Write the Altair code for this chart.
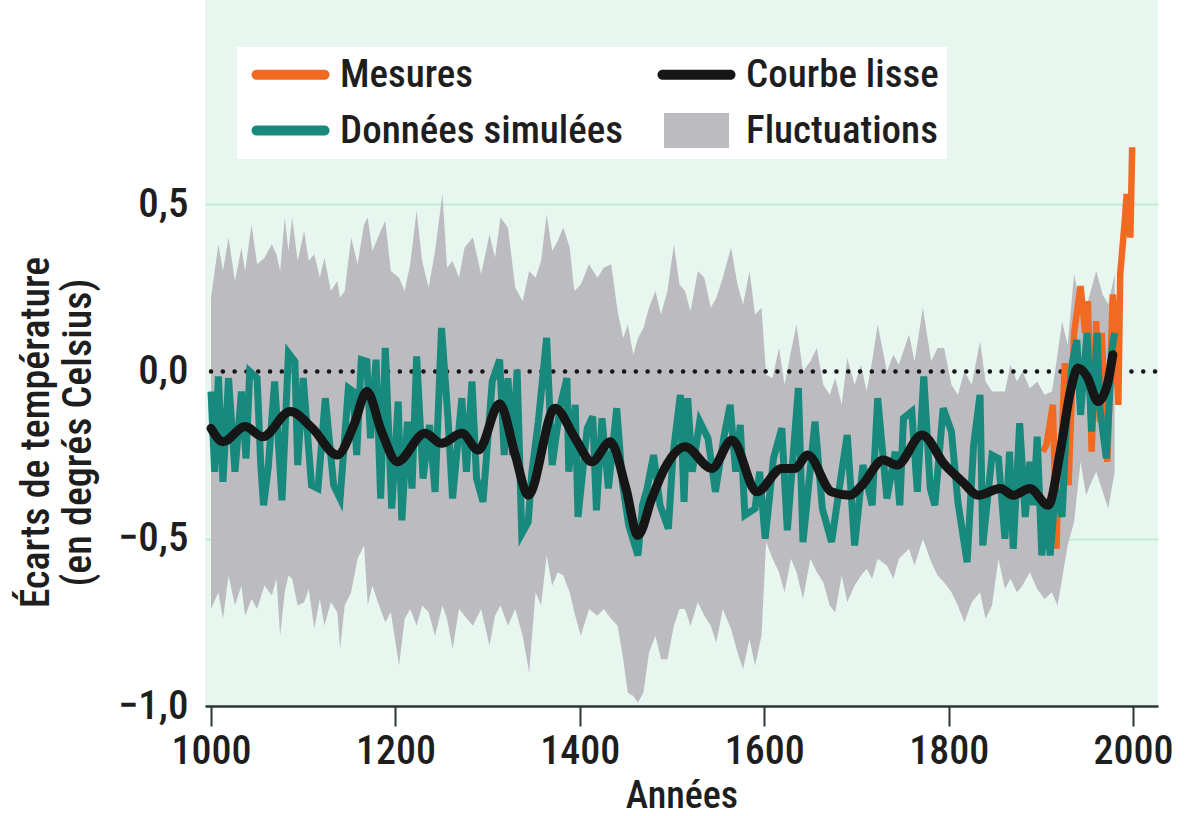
import altair as alt
import pandas as pd

# ---------------- data ----------------
# Fluctuations (grey band): upper and lower envelope
fl_years = [1000, 1008, 1013, 1019, 1026, 1033, 1037, 1044, 1050, 1058, 1066, 1071, 1075, 1080, 1084,
            1088, 1094, 1101, 1106, 1112, 1118, 1123, 1130, 1137, 1140, 1145, 1152, 1159, 1166, 1170,
            1175, 1181, 1189, 1195, 1204, 1210, 1216, 1223, 1229, 1236, 1243, 1251, 1256, 1262, 1269,
            1275, 1284, 1293, 1302, 1308, 1314, 1322, 1330, 1338, 1345, 1352, 1358, 1364, 1370, 1376,
            1382, 1389, 1394, 1401, 1410, 1419, 1426, 1434, 1441, 1447, 1452, 1458, 1463, 1469, 1475,
            1482, 1488, 1495, 1502, 1508, 1514, 1520, 1528, 1535, 1542, 1548, 1555, 1564, 1571, 1577,
            1584, 1590, 1597, 1602, 1609, 1616, 1622, 1629, 1635, 1642, 1650, 1657, 1664, 1671, 1677,
            1684, 1690, 1698, 1705, 1711, 1717, 1723, 1733, 1740, 1746, 1757, 1763, 1772, 1781, 1788,
            1795, 1803, 1810, 1817, 1825, 1834, 1840, 1847, 1854, 1861, 1867, 1874, 1880, 1888, 1896,
            1904, 1912, 1918, 1923, 1929, 1936, 1943, 1949, 1955, 1960, 1967, 1973, 1980]
fl_upper = [0.22, 0.38, 0.30, 0.40, 0.27, 0.37, 0.30, 0.44, 0.32, 0.34, 0.38, 0.35, 0.30, 0.46, 0.36,
            0.46, 0.33, 0.42, 0.33, 0.35, 0.28, 0.34, 0.24, 0.27, 0.22, 0.24, 0.40, 0.32, 0.44, 0.46,
            0.36, 0.40, 0.45, 0.30, 0.28, 0.24, 0.32, 0.48, 0.33, 0.25, 0.36, 0.53, 0.31, 0.33, 0.28,
            0.37, 0.40, 0.29, 0.41, 0.34, 0.46, 0.43, 0.25, 0.21, 0.30, 0.28, 0.33, 0.47, 0.36, 0.39,
            0.43, 0.37, 0.24, 0.26, 0.32, 0.28, 0.31, 0.32, 0.18, 0.10, 0.14, 0.05, 0.10, 0.13, 0.19,
            0.24, 0.17, 0.24, 0.38, 0.26, 0.24, 0.18, 0.30, 0.28, 0.19, 0.22, 0.28, 0.37, 0.26, 0.20,
            0.30, 0.17, 0.19, -0.01, -0.02, 0.07, -0.04, 0.06, 0.14, 0.00, 0.03, 0.07, -0.04, -0.07, -0.02,
            -0.10, 0.04, -0.04, 0.02, -0.06, 0.03, 0.14, 0.00, 0.05, 0.02, 0.11, 0.03, 0.19, 0.03, 0.07,
            0.07, -0.04, -0.07, 0.00, -0.04, 0.09, -0.03, -0.06, -0.06, -0.06, 0.02, -0.03, 0.00, -0.05, -0.03,
            -0.07, -0.06, 0.05, 0.15, 0.08, 0.29, 0.20, 0.19, 0.25, 0.30, 0.23, 0.20, 0.29]
fl_lower = [-0.71, -0.66, -0.74, -0.61, -0.70, -0.64, -0.73, -0.68, -0.71, -0.64, -0.67, -0.62, -0.79, -0.66, -0.61,
            -0.62, -0.70, -0.69, -0.65, -0.77, -0.68, -0.76, -0.69, -0.72, -0.83, -0.70, -0.66, -0.56, -0.52, -0.70,
            -0.64, -0.69, -0.75, -0.72, -0.88, -0.74, -0.71, -0.76, -0.70, -0.72, -0.79, -0.70, -0.74, -0.83, -0.71,
            -0.73, -0.76, -0.71, -0.82, -0.73, -0.70, -0.76, -0.71, -0.79, -0.90, -0.66, -0.70, -0.55, -0.64, -0.60,
            -0.61, -0.66, -0.72, -0.79, -0.71, -0.73, -0.71, -0.74, -0.76, -0.86, -0.96, -0.97, -0.99, -0.96, -0.84,
            -0.79, -0.86, -0.86, -0.76, -0.71, -0.71, -0.76, -0.69, -0.73, -0.76, -0.81, -0.71, -0.77, -0.84, -0.89,
            -0.80, -0.88, -0.79, -0.51, -0.56, -0.60, -0.66, -0.56, -0.60, -0.68, -0.56, -0.60, -0.63, -0.70, -0.72,
            -0.61, -0.69, -0.64, -0.61, -0.59, -0.62, -0.56, -0.58, -0.62, -0.56, -0.53, -0.58, -0.50, -0.57, -0.61,
            -0.63, -0.66, -0.70, -0.75, -0.69, -0.66, -0.74, -0.70, -0.56, -0.65, -0.62, -0.66, -0.64, -0.60, -0.65,
            -0.68, -0.66, -0.70, -0.62, -0.52, -0.45, -0.27, -0.37, -0.33, -0.30, -0.36, -0.41, -0.30]

# Données simulées (teal)
sim_years = [1000, 1004, 1008, 1013, 1019, 1026, 1033, 1038, 1042, 1050, 1054, 1057, 1062, 1069, 1077,
             1084, 1091, 1094, 1100, 1109, 1116, 1124, 1133, 1140, 1149, 1154, 1158, 1163, 1169, 1173,
             1179, 1184, 1189, 1196, 1203, 1207, 1213, 1218, 1223, 1230, 1237, 1243, 1250, 1257, 1262,
             1272, 1277, 1283, 1288, 1295, 1305, 1313, 1318, 1322, 1327, 1332, 1337, 1344, 1348, 1355,
             1364, 1370, 1379, 1386, 1388, 1395, 1398, 1408, 1414, 1418, 1424, 1431, 1440, 1446, 1453,
             1463, 1468, 1473, 1480, 1487, 1496, 1501, 1509, 1513, 1517, 1522, 1530, 1539, 1547, 1556,
             1563, 1569, 1574, 1579, 1590, 1595, 1601, 1610, 1619, 1625, 1637, 1642, 1655, 1663, 1673,
             1684, 1690, 1698, 1707, 1717, 1723, 1733, 1742, 1747, 1751, 1760, 1766, 1773, 1780, 1785,
             1794, 1803, 1810, 1820, 1827, 1834, 1837, 1847, 1854, 1861, 1866, 1870, 1877, 1883, 1888,
             1892, 1896, 1901, 1906, 1910, 1916, 1923, 1928, 1934, 1939, 1943, 1950, 1955, 1961, 1964,
             1971, 1977, 1980]
sim_vals = [-0.06, -0.30, -0.015, -0.33, -0.02, -0.30, -0.06, -0.26, 0.00, -0.02, -0.28, -0.40, -0.29, -0.03, -0.385,
            0.055, 0.03, -0.28, -0.02, -0.34, -0.35, -0.08, -0.34, -0.38, -0.05, -0.06, -0.25, 0.035, 0.03, -0.20,
            0.035, -0.38, 0.07, -0.41, -0.09, -0.445, -0.15, -0.35, 0.045, -0.32, -0.16, -0.36, 0.13, -0.14, -0.38,
            -0.08, -0.30, -0.03, -0.32, -0.39, -0.03, 0.035, -0.25, -0.02, -0.25, 0.005, -0.485, -0.45, -0.30, -0.15,
            0.10, -0.28, -0.10, -0.02, -0.30, -0.10, -0.435, -0.17, -0.135, -0.415, -0.14, -0.35, -0.11, -0.33, -0.46,
            -0.55, -0.40, -0.35, -0.25, -0.40, -0.47, -0.25, -0.07, -0.39, -0.08, -0.30, -0.15, -0.20, -0.36, -0.20,
            -0.10, -0.30, -0.16, -0.43, -0.41, -0.30, -0.50, -0.26, -0.17, -0.475, -0.05, -0.51, -0.15, -0.41, -0.51,
            -0.30, -0.19, -0.52, -0.28, -0.40, -0.08, -0.38, -0.24, -0.40, -0.14, -0.12, -0.36, -0.015, -0.35, -0.40,
            -0.11, -0.18, -0.39, -0.57, -0.22, -0.07, -0.52, -0.25, -0.26, -0.50, -0.24, -0.53, -0.155, -0.435, -0.27,
            -0.40, -0.195, -0.55, -0.40, -0.55, -0.35, -0.435, -0.14, 0.026, 0.094, -0.13, 0.115, -0.18, 0.115, -0.11,
            -0.26, 0.065, 0.115]

# Mesures (orange)
mes_years = [1902, 1906, 1913, 1917, 1919, 1923, 1926, 1930, 1936, 1943, 1948, 1951, 1955, 1960, 1964,
             1966, 1972, 1978, 1984, 1986, 1991, 1993, 1997, 1999]
mes_vals = [-0.24, -0.22, -0.10, -0.53, -0.27, -0.18, 0.025, -0.34, 0.115, 0.255, 0.115, 0.21, -0.24, 0.15, -0.15,
            0.115, -0.27, 0.23, -0.10, 0.29, 0.45, 0.53, 0.40, 0.67]

# Courbe lisse (black)
lis_years = [1000, 1013, 1037, 1056, 1086, 1110, 1137, 1155, 1169, 1185, 1202, 1232, 1250, 1272, 1290,
             1313, 1330, 1344, 1373, 1395, 1413, 1433, 1450, 1463, 1478, 1492, 1514, 1543, 1565, 1592,
             1619, 1633, 1647, 1673, 1693, 1706, 1729, 1744, 1771, 1796, 1815, 1832, 1856, 1870, 1888,
             1908, 1921, 1932, 1940, 1950, 1962, 1972, 1978]
lis_vals = [-0.17, -0.21, -0.165, -0.195, -0.12, -0.17, -0.25, -0.16, -0.06, -0.18, -0.27, -0.185, -0.215, -0.185, -0.235,
            -0.097, -0.25, -0.37, -0.11, -0.20, -0.27, -0.21, -0.35, -0.49, -0.38, -0.29, -0.225, -0.29, -0.205, -0.36,
            -0.29, -0.29, -0.25, -0.36, -0.37, -0.34, -0.265, -0.28, -0.19, -0.28, -0.33, -0.37, -0.35, -0.37, -0.35,
            -0.40, -0.24, -0.06, 0.01, -0.015, -0.09, -0.04, 0.05]

# legend order (filled column by column): Mesures, Données simulées | Courbe lisse, Fluctuations
series_names = ["Mesures", "Données simulées", "Courbe lisse", "Fluctuations"]
series_colors = ["#f26a21", "#178a7d", "#161616", "#bcbcc0"]

x_ticks = [1000, 1200, 1400, 1600, 1800, 2000]
y_ticks = [-1.0, -0.5, 0.0, 0.5]

# ---------------- chart ----------------
FONT = "Roboto Condensed, Roboto, sans-serif"
WEIGHT = 500
TXT = "#1e1e1e"
x_scale = alt.Scale(domain=[993.5, 2027], nice=False, zero=False)
y_scale = alt.Scale(domain=[-1.0, 1.11], nice=False, zero=False)

fl_df = pd.DataFrame({"annee": fl_years, "haut": fl_upper, "bas": fl_lower})
sim_df = pd.DataFrame({"annee": sim_years, "valeur": sim_vals})
mes_df = pd.DataFrame({"annee": mes_years, "valeur": mes_vals})
lis_df = pd.DataFrame({"annee": lis_years, "valeur": lis_vals})
zero_df = pd.DataFrame({"debut": [x_ticks[0]], "fin": [2024], "valeur": [0.0]})
leg_df = pd.DataFrame({
    "serie": series_names,
    "annee": [mes_years[0], sim_years[0], lis_years[0], fl_years[0]],
    "valeur": [mes_vals[0], sim_vals[0], lis_vals[0], fl_upper[0]],
})

x_axis = alt.Axis(
    values=x_ticks, format="d", title="Années", grid=False,
    tickSize=20, tickWidth=2, tickColor="#2a3535",
    domainColor="#2a3535", domainWidth=2.5,
    labelFont=FONT, labelFontSize=40, labelFontWeight=WEIGHT, labelColor=TXT,
    labelPadding=5, labelFlush=False,
    titleFont=FONT, titleFontSize=38, titleFontWeight=WEIGHT, titleColor=TXT,
    titlePadding=6,
)
y_axis = alt.Axis(
    values=y_ticks, labelExpr="replace(format(datum.value, '.1f'), '.', ',')",
    title=["Écarts de température", "(en degrés Celsius)"],
    ticks=False, domain=False, grid=True,
    gridColor={"condition": {"test": "abs(datum.value) < 0.01 || datum.value < -0.99",
                             "value": "rgba(0,0,0,0)"}, "value": "#bdebd7"},
    gridWidth=2,
    labelFont=FONT, labelFontSize=41, labelFontWeight=WEIGHT, labelColor=TXT,
    labelPadding=17,
    titleFont=FONT, titleFontSize=40, titleFontWeight=WEIGHT, titleColor=TXT,
    titleLineHeight=42, titleAngle=270, titleAlign="center", titleBaseline="middle",
    titleX=-169, titleY=432,
)

band = alt.Chart(fl_df).mark_area(color=series_colors[3], interpolate="linear").encode(
    x=alt.X("annee:Q", scale=x_scale, axis=x_axis),
    y=alt.Y("haut:Q", scale=y_scale, axis=y_axis),
    y2="bas:Q",
)

zero_line = alt.Chart(zero_df).mark_rule(
    color="#161616", strokeWidth=4.5, strokeDash=[0.1, 11.7], strokeCap="round"
).encode(
    x=alt.X("debut:Q", scale=x_scale),
    x2="fin:Q",
    y=alt.Y("valeur:Q", scale=y_scale),
)

mes_line = alt.Chart(mes_df).mark_line(
    color=series_colors[0], strokeWidth=6.5, interpolate="linear"
).encode(x=alt.X("annee:Q", scale=x_scale), y=alt.Y("valeur:Q", scale=y_scale))

sim_line = alt.Chart(sim_df).mark_line(
    color=series_colors[1], strokeWidth=7, interpolate="linear"
).encode(x=alt.X("annee:Q", scale=x_scale), y=alt.Y("valeur:Q", scale=y_scale))

lis_line = alt.Chart(lis_df).mark_line(
    color=series_colors[2], strokeWidth=9, interpolate="monotone", strokeCap="round"
).encode(x=alt.X("annee:Q", scale=x_scale), y=alt.Y("valeur:Q", scale=y_scale))

# symbol unit = sqrt(400)/2 = 10 px
bar_path = "M-3.4,-0.5L3.4,-0.5A0.5,0.5 0 0 1 3.4,0.5L-3.4,0.5A0.5,0.5 0 0 1 -3.4,-0.5Z"
sq_path = "M-3.25,-1.75L3.25,-1.75L3.25,1.75L-3.25,1.75Z"
legend_kw = dict(
    title=None, orient="none", legendX=32, legendY=47, columns=2,
    columnPadding=28, rowPadding=16, padding=8, fillColor="white",
    labelFont=FONT, labelFontSize=39, labelFontWeight=WEIGHT, labelColor=TXT,
    labelOffset=30, labelLimit=500, symbolSize=400, symbolOffset=26,
    symbolOpacity=1, symbolStrokeWidth=0,
)
legend_layer = alt.Chart(leg_df).mark_point(filled=True, opacity=0, clip=True).encode(
    x=alt.X("annee:Q", scale=x_scale),
    y=alt.Y("valeur:Q", scale=y_scale),
    color=alt.Color("serie:N", scale=alt.Scale(domain=series_names, range=series_colors),
                    legend=alt.Legend(**legend_kw)),
    shape=alt.Shape("serie:N", scale=alt.Scale(domain=series_names,
                                                range=[bar_path, bar_path, bar_path, sq_path]),
                    legend=alt.Legend(**legend_kw)),
)

chart = alt.layer(band, zero_line, mes_line, sim_line, lis_line, legend_layer).properties(
    width=953, height=706,
    autosize=alt.AutoSizeParams(type="none"),
    padding={"left": 205, "top": 0, "right": 29, "bottom": 110},
    background="white",
).configure_view(fill="#e7f6ef", stroke=None)

chart.save("out.html", embed_options={"renderer": "svg", "actions": False})
